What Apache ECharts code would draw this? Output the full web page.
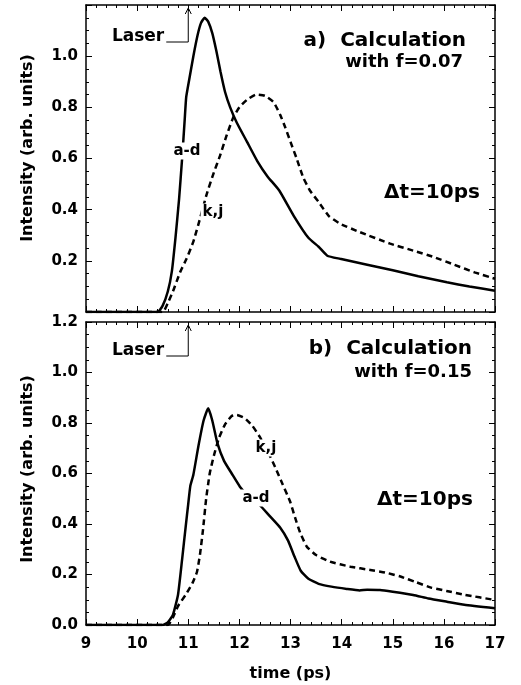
<!DOCTYPE html>
<html>
<head>
<meta charset="utf-8">
<script src="https://cdn.jsdelivr.net/npm/echarts@6/dist/echarts.min.js"></script>
<style>
  html, body { margin: 0; padding: 0; background: #fff; }
  #chart { width: 521px; height: 685px; }
</style>
</head>
<body>
<div id="chart"></div>
<script>
// Time axis (ps)
const timeMin = 9;
const timeMax = 17;
const timeTicks = [9, 10, 11, 12, 13, 14, 15, 16, 17];
const intensityTicks = [0.0, 0.2, 0.4, 0.6, 0.8, 1.0, 1.2];
const laserTime = 11;

// Panel a) calculation with f=0.07
const aSolidAD = [
  [9, 0], [10.4, 0], [10.5, 0.025], [10.6, 0.08], [10.68, 0.16], [10.75, 0.29],
  [10.82, 0.44], [10.88, 0.6], [10.93, 0.75], [10.96, 0.84], [11.02, 0.91],
  [11.1, 1.0], [11.18, 1.08], [11.25, 1.13], [11.32, 1.15], [11.39, 1.135],
  [11.47, 1.09], [11.55, 1.02], [11.63, 0.94], [11.72, 0.86], [11.82, 0.8],
  [11.95, 0.74], [12.15, 0.665], [12.35, 0.59], [12.55, 0.53], [12.78, 0.475],
  [13.06, 0.377], [13.35, 0.29], [13.55, 0.255], [13.72, 0.22], [13.97, 0.208],
  [14.5, 0.185], [15.0, 0.163], [15.5, 0.14], [16.06, 0.116], [16.5, 0.1], [17, 0.083]
];
const aDashedKJ = [
  [9, 0], [10.5, 0], [10.6, 0.035], [10.7, 0.08], [10.84, 0.155], [10.97, 0.21],
  [11.1, 0.275], [11.23, 0.365], [11.36, 0.46], [11.5, 0.545], [11.62, 0.61],
  [11.75, 0.69], [11.88, 0.76], [12.0, 0.8], [12.15, 0.83], [12.33, 0.85],
  [12.5, 0.845], [12.67, 0.82], [12.8, 0.77], [12.9, 0.72], [13.0, 0.665],
  [13.12, 0.6], [13.25, 0.525], [13.38, 0.475], [13.55, 0.43], [13.75, 0.375],
  [13.97, 0.345], [14.36, 0.312], [14.95, 0.267], [15.4, 0.24], [15.8, 0.215],
  [16.2, 0.185], [16.6, 0.155], [17, 0.13]
];

// Panel b) calculation with f=0.15
const bSolidAD = [
  [9, 0], [10.5, 0], [10.6, 0.01], [10.7, 0.04], [10.8, 0.12], [10.88, 0.26],
  [10.95, 0.39], [11.0, 0.48], [11.04, 0.55], [11.1, 0.595], [11.2, 0.71],
  [11.3, 0.81], [11.39, 0.858], [11.47, 0.81], [11.57, 0.72], [11.7, 0.65],
  [11.85, 0.6], [12.01, 0.548], [12.2, 0.505], [12.4, 0.475], [12.6, 0.43],
  [12.8, 0.385], [12.95, 0.335], [13.08, 0.27], [13.2, 0.215], [13.35, 0.183],
  [13.55, 0.163], [13.8, 0.152], [14.1, 0.143], [14.35, 0.137], [14.5, 0.14],
  [14.75, 0.139], [15.0, 0.132], [15.4, 0.119], [15.7, 0.105], [16.06, 0.092],
  [16.4, 0.08], [17, 0.066]
];
const bDashedKJ = [
  [9, 0], [10.6, 0], [10.7, 0.03], [10.8, 0.075], [10.95, 0.12], [11.08, 0.165],
  [11.17, 0.21], [11.23, 0.28], [11.29, 0.38], [11.35, 0.5], [11.42, 0.6],
  [11.5, 0.67], [11.6, 0.74], [11.72, 0.795], [11.85, 0.828], [11.95, 0.832],
  [12.1, 0.82], [12.25, 0.79], [12.4, 0.745], [12.55, 0.69], [12.7, 0.625],
  [12.85, 0.555], [12.99, 0.49], [13.09, 0.425], [13.19, 0.365], [13.32, 0.31],
  [13.5, 0.277], [13.77, 0.251], [14.17, 0.231], [14.56, 0.218], [14.85, 0.208],
  [15.15, 0.192], [15.45, 0.17], [15.75, 0.148], [16.05, 0.135], [16.4, 0.12], [17, 0.099]
];

const FONT = '"DejaVu Sans", sans-serif';
const INK = '#000';

function xAxisFor(gridIndex, position, showLabels) {
  return {
    type: 'value', gridIndex, position,
    min: timeMin, max: timeMax, interval: 1,
    axisLine: { show: true, onZero: false, lineStyle: { color: INK, width: 1.5 } },
    axisTick: { show: true, inside: true, length: 6, lineStyle: { color: INK, width: 1 } },
    minorTick: { show: true, splitNumber: 5, length: 3, lineStyle: { color: INK, width: 1 } },
    splitLine: { show: false },
    axisLabel: {
      show: showLabels, margin: 12, color: INK,
      fontFamily: FONT, fontWeight: 'bold', fontSize: 15,
      formatter: v => timeTicks.includes(v) ? String(v) : ''
    }
  };
}

function yAxisFor(gridIndex, position, labelFilter) {
  return {
    type: 'value', gridIndex, position,
    min: intensityTicks[0], max: intensityTicks[intensityTicks.length - 1], interval: 0.2,
    axisLine: { show: true, onZero: false, lineStyle: { color: INK, width: 1.5 } },
    axisTick: { show: true, inside: true, length: 6, lineStyle: { color: INK, width: 1 } },
    minorTick: { show: true, splitNumber: 4, length: 3, lineStyle: { color: INK, width: 1 } },
    splitLine: { show: false },
    axisLabel: {
      show: !!labelFilter, margin: 8, color: INK,
      fontFamily: FONT, fontWeight: 'bold', fontSize: 15,
      formatter: v => (labelFilter && labelFilter(v)) ? v.toFixed(1) : ''
    }
  };
}

function curve(data, xi, yi, dashed) {
  return {
    type: 'line', data, xAxisIndex: xi, yAxisIndex: yi,
    showSymbol: false, smooth: 0.15,
    lineStyle: { color: INK, width: 2.5, type: dashed ? [6, 4] : 'solid' },
    z: 3
  };
}

function text(x, y, str, size, align, opts) {
  return Object.assign({
    type: 'text', x, y, z: 100,
    style: {
      text: str, fill: INK, font: 'bold ' + size + 'px ' + FONT,
      textAlign: align, textVerticalAlign: 'middle'
    }
  }, opts || {});
}

function boxedText(x, y, str, size) {
  return {
    type: 'text', x, y, z: 100,
    style: {
      text: str, fill: INK, font: 'bold ' + size + 'px ' + FONT,
      textAlign: 'center', textVerticalAlign: 'middle',
      backgroundColor: '#fff', padding: [1, 2]
    }
  };
}

const chart = echarts.init(document.getElementById('chart'), null, { renderer: 'canvas' });

chart.setOption({
  animation: false,
  backgroundColor: '#fff',
  grid: [
    { left: 86, top: 5, width: 409, height: 307 },
    { left: 86, top: 322, width: 409, height: 303 }
  ],
  xAxis: [
    xAxisFor(0, 'bottom', false),
    xAxisFor(0, 'top', false),
    Object.assign(xAxisFor(1, 'bottom', true), {
      name: 'time (ps)', nameLocation: 'middle', nameGap: 41,
      nameTextStyle: { color: INK, fontFamily: FONT, fontWeight: 'bold', fontSize: 16 }
    }),
    xAxisFor(1, 'top', false)
  ],
  yAxis: [
    yAxisFor(0, 'left', v => v > 0.05 && v < 1.15),
    yAxisFor(0, 'right', null),
    yAxisFor(1, 'left', v => true),
    yAxisFor(1, 'right', null)
  ],
  series: [
    curve(aSolidAD, 0, 0, false),
    curve(aDashedKJ, 0, 0, true),
    curve(bSolidAD, 2, 2, false),
    curve(bDashedKJ, 2, 2, true)
  ]
});

// Annotations: laser arrows anchored to the laser time on each panel
function laserMarker(xAxisIndex, yAxisIndex, labelY) {
  const px = chart.convertToPixel({ xAxisIndex }, laserTime);
  const topY = chart.convertToPixel({ yAxisIndex }, 1.2);
  const lineY = labelY + 5;
  return [
    text(px - 24, labelY, 'Laser', 17, 'right'),
    {
      type: 'polyline', z: 100,
      shape: { points: [[px - 22, lineY], [px, lineY], [px, topY + 4]] },
      style: { stroke: INK, lineWidth: 1, fill: null }
    },
    {
      type: 'polyline', z: 100,
      shape: { points: [[px - 3, topY + 9], [px, topY + 3], [px + 3, topY + 9]] },
      style: { stroke: INK, lineWidth: 1, fill: null }
    }
  ];
}

chart.setOption({
  graphic: [
    // y axis titles
    text(28, 148, 'Intensity (arb. units)', 16, 'center', { rotation: Math.PI / 2 }),
    text(28, 469, 'Intensity (arb. units)', 16, 'center', { rotation: Math.PI / 2 }),
    // panel a
    ...laserMarker(0, 0, 37),
    text(466, 41, 'a)  Calculation', 20, 'right'),
    text(463, 62, 'with f=0.07', 18, 'right'),
    text(432, 193, '\u0394t=10ps', 20, 'center'),
    boxedText(187, 151, 'a-d', 15),
    boxedText(213, 212, 'k,j', 15),
    // panel b
    ...laserMarker(2, 2, 351),
    text(472, 349, 'b)  Calculation', 20, 'right'),
    text(472, 372, 'with f=0.15', 18, 'right'),
    text(425, 500, '\u0394t=10ps', 20, 'center'),
    boxedText(256, 498, 'a-d', 15),
    boxedText(266, 448, 'k,j', 15)
  ]
});
</script>
</body>
</html>
